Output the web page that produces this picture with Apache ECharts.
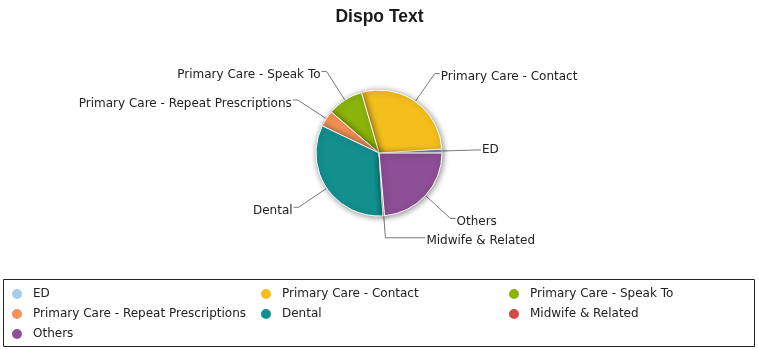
<!DOCTYPE html>
<html><head><meta charset="utf-8">
<script src="https://cdn.jsdelivr.net/npm/echarts@6/dist/echarts.min.js"></script>
<style>html,body{margin:0;padding:0;background:#fff}#c{width:759px;height:349px}</style>
</head><body><div id="c"></div>
<script>
const categories = ["ED","Primary Care - Contact","Primary Care - Speak To","Primary Care - Repeat Prescriptions","Dental","Midwife & Related","Others"];
const values = [1.0, 28.5, 9.2, 4.2, 33.1, 0.4, 23.6];
const colors = ["#a9cde8","#f4bf1d","#8bb40a","#f79157","#12908e","#cf4b4b","#8d4f95"];
const legendCols = [["ED","Primary Care - Repeat Prescriptions","Others"],["Primary Care - Contact","Dental"],["Primary Care - Speak To","Midwife & Related"]];
const legendX = [10, 259, 507];

const chart = echarts.init(document.getElementById('c'), null, {renderer:'canvas'});
const font = '"DejaVu Sans", sans-serif';
const titleFont = '"Liberation Sans", Arial, sans-serif';
chart.setOption({
  animation:false,
  color: colors,
  title:{text:'Dispo Text', left:'center', top:3, textStyle:{fontFamily:titleFont, fontSize:17.5, fontWeight:'bold', color:'#1a1a1a'}},
  graphic:[{type:'rect', shape:{x:3.5,y:279.5,width:751,height:67}, style:{fill:'none', stroke:'#222', lineWidth:1}}],
  legend: legendCols.map((d,i)=>({
    data:d, orient:'vertical', left:legendX[i], top:287, itemGap:6, itemWidth:22, itemHeight:12,
    icon:'circle', textStyle:{fontFamily:font, fontSize:12, color:'#222'}, padding:0, selectedMode:false
  })),
  series:[{
    type:'pie', center:[379,153], radius:63, startAngle:0, clockwise:false,
    data: categories.map((c,i)=>({name:c, value:values[i],
      labelLine: c==="Midwife & Related" ? {length:22, length2:40} : undefined,
      label: c==="ED" ? {formatter:'{e|{b}}'} : undefined})),
    itemStyle:{borderColor:'#fff', borderWidth:1, shadowBlur:6, shadowColor:'rgba(0,0,0,0.45)', shadowOffsetX:1, shadowOffsetY:1},
    label:{fontFamily:font, fontSize:12, color:'#222', distanceToLabelLine:1,
      formatter:'{t|{b}}',
      rich:{t:{fontFamily:font, fontSize:12, color:'#222', padding:[7,0,0,0]},
            e:{fontFamily:font, fontSize:12, color:'#222', padding:[0,0,0,0]}}},
    labelLine:{length:34, length2:5, lineStyle:{color:'#777', width:1}}
  }]
});
</script></body></html>
